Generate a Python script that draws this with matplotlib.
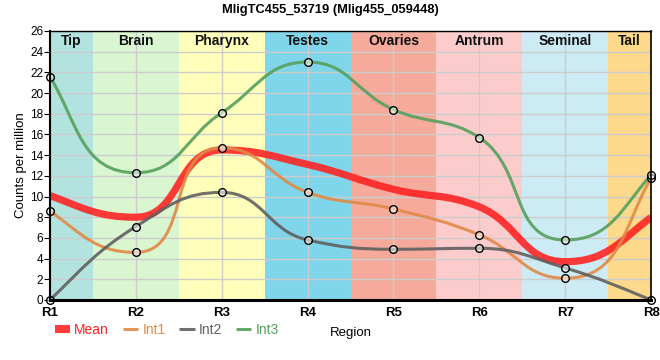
import numpy as np
import matplotlib
matplotlib.use("Agg")
import matplotlib.pyplot as plt
from matplotlib.path import Path
from matplotlib.patches import PathPatch
from matplotlib.lines import Line2D

plt.rcParams["font.family"] = ["Liberation Sans", "DejaVu Sans"]

# ── Dados ────────────────────────────────────────────────────────────────────
regions = ["R1", "R2", "R3", "R4", "R5", "R6", "R7", "R8"]
tissues = ["Tip", "Brain", "Pharynx", "Testes", "Ovaries", "Antrum", "Seminal", "Tail"]
tissue_colors = ["#b3e3de", "#d9f6d0", "#ffffbb", "#7fd5ea",
                 "#f5aa9b", "#fccbcb", "#cdebf5", "#fdd98b"]

mean = [10.1, 8.0, 14.5, 13.1, 10.7, 9.0, 3.7, 8.0]
int1 = [8.6, 4.6, 14.7, 10.4, 8.8, 6.3, 2.1, 11.8]
int2 = [0.0, 7.1, 10.4, 5.8, 4.9, 5.0, 3.1, 0.0]
int3 = [21.6, 12.3, 18.1, 23.0, 18.4, 15.7, 5.8, 12.1]

series = [
    ("Mean", mean, "#ff2020", 5.2, 0.88, False),
    ("Int1", int1, "#e08a48", 2.2, 0.9, True),
    ("Int2", int2, "#606060", 2.2, 0.9, True),
    ("Int3", int3, "#55a05c", 2.2, 0.9, True),
]

# escala aproximada em pixels (para o tamanho das alças da curva)
PX_X = 85.9
PX_Y = 10.35
K = 0.42


def monotone_path(x, y):
    # tangentes monótonas (estilo d3), alças proporcionais à corda em pixels
    x = np.asarray(x, float)
    y = np.asarray(y, float)
    n = len(x)
    h = np.diff(x)
    s = np.diff(y) / h
    t = np.zeros(n)
    sg = lambda v: -1 if v < 0 else 1
    for i in range(1, n - 1):
        p = (s[i - 1] * h[i] + s[i] * h[i - 1]) / (h[i - 1] + h[i])
        t[i] = (sg(s[i - 1]) + sg(s[i])) * min(abs(s[i - 1]), abs(s[i]), 0.5 * abs(p))
    t[0] = (3 * s[0] - t[1]) / 2
    t[-1] = (3 * s[-1] - t[-2]) / 2

    def handle(ti, length):
        vx, vy = PX_X, ti * PX_Y
        norm = np.hypot(vx, vy)
        return length * vx / norm / PX_X, length * vy / norm / PX_Y

    verts = [(x[0], y[0])]
    codes = [Path.MOVETO]
    for i in range(n - 1):
        chord = np.hypot(h[i] * PX_X, (y[i + 1] - y[i]) * PX_Y)
        hx0, hy0 = handle(t[i], K * chord)
        hx1, hy1 = handle(t[i + 1], K * chord)
        f0 = min(1.0, 0.7 * h[i] / hx0)
        f1 = min(1.0, 0.7 * h[i] / hx1)
        verts += [(x[i] + hx0 * f0, y[i] + hy0 * f0),
                  (x[i + 1] - hx1 * f1, y[i + 1] - hy1 * f1),
                  (x[i + 1], y[i + 1])]
        codes += [Path.CURVE4] * 3
    return Path(verts, codes)


xs = np.arange(1, len(regions) + 1)

fig = plt.figure(figsize=(6.6, 3.6), dpi=100)
ax = fig.add_axes([0.0758, 0.1667, 0.9106, 0.7472])

# faixas de tecido
for i, (name, col) in enumerate(zip(tissues, tissue_colors)):
    x0 = max(1, xs[i] - 0.5)
    x1 = min(len(regions), xs[i] + 0.5)
    ax.axvspan(x0, x1, color=col, zorder=0.2, lw=0)
    ax.text((x0 + x1) / 2, 25.0, name, ha="center", va="center",
            fontsize=10, fontweight="bold", color="#111111", zorder=5)

ax.set_xlim(1, 8)
ax.set_ylim(0, 26)
ax.set_yticks(range(0, 27, 2))
ax.set_xticks(xs)
ax.set_xticklabels(regions, fontsize=9.5, fontweight="bold")
ax.tick_params(axis="x", length=0, pad=5)
ax.tick_params(axis="y", length=4, labelsize=8.5, pad=1)
ax.grid(True, color="#cccccc", lw=1, zorder=0.5)
ax.set_axisbelow(True)

for side, lw in [("bottom", 2.2), ("left", 1.5), ("top", 1.0), ("right", 1.2)]:
    ax.spines[side].set_linewidth(lw)
    ax.spines[side].set_color("black")
    ax.spines[side].set_zorder(6)

handles = []
for label, vals, col, lw, alpha, marks in series:
    ax.add_patch(PathPatch(monotone_path(xs, vals), fill=False, edgecolor=col,
                           lw=lw, alpha=alpha, zorder=2, capstyle="butt"))
    if marks:
        ax.plot(xs, vals, "o", ms=5.5, mfc=(1, 1, 1, 0.55), mec="black",
                mew=1, zorder=4, clip_on=False)
    handles.append(Line2D([], [], color=col, lw=5.8 if label == "Mean" else lw,
                          alpha=alpha, solid_capstyle="butt", label=label))

leg = ax.legend(handles=handles, loc="center left", bbox_to_anchor=(0.008, -0.112),
                ncol=4, frameon=False, fontsize=10, handlelength=1.1,
                handletextpad=0.3, columnspacing=1.0, labelcolor="linecolor",
                borderpad=0, borderaxespad=0)

ax.set_ylabel("Counts per million", fontsize=9.5, labelpad=2)
ax.set_xlabel("Region", fontsize=9.5, labelpad=6)
fig.suptitle("MligTC455_53719 (Mlig455_059448)", x=0.5, y=0.972, fontsize=9.3,
             fontweight="bold", va="center")

plt.savefig("out.png", dpi=100)
plt.close()
